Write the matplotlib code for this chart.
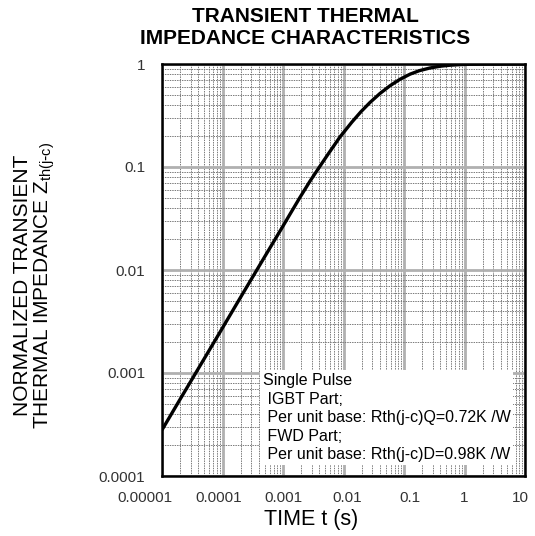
import matplotlib
matplotlib.use("Agg")
import matplotlib.pyplot as plt
from matplotlib.ticker import LogLocator, FixedLocator, FixedFormatter
from matplotlib.transforms import ScaledTranslation

plt.rcParams["font.family"] = ["Liberation Sans", "DejaVu Sans"]

# values
time_s = [1e-5, 2e-5, 5e-5, 1e-4, 2e-4, 3.3e-4, 5e-4, 1e-3, 1.3e-3, 1.9e-3, 2.8e-3,
          4e-3, 5.5e-3, 8.7e-3, 0.0137, 0.0195, 0.0274, 0.04, 0.0587, 0.085, 0.126,
          0.18, 0.269, 0.4, 0.575, 0.85, 1.25, 2.0, 10.0]
zth = [2.8e-4, 5.58e-4, 1.38e-3, 2.74e-3, 5.46e-3, 8.95e-3, 1.35e-2, 2.67e-2, 3.47e-2,
       5.05e-2, 7.3e-2, 0.1, 0.132, 0.195, 0.272, 0.345, 0.423, 0.517, 0.615, 0.708,
       0.797, 0.862, 0.915, 0.952, 0.973, 0.987, 0.995, 0.999, 1.0]

x_ticks = [1e-5, 1e-4, 1e-3, 1e-2, 1e-1, 1, 10]
x_labels = ["0.00001", "0.0001", "0.001", "0.01", "0.1", "1", "10"]
y_ticks = [1e-4, 1e-3, 1e-2, 1e-1, 1]
y_labels = ["0.0001", "0.001", "0.01", "0.1", "1"]

note = ("Single Pulse\n IGBT Part;\n Per unit base: Rth(j-c)Q=0.72K /W\n"
        " FWD Part;\n Per unit base: Rth(j-c)D=0.98K /W")

fig = plt.figure(figsize=(5.35, 5.36), dpi=100)
ax = fig.add_axes([162 / 535, 1 - 476 / 536, 363 / 535, 412 / 536])

ax.set_xscale("log")
ax.set_yscale("log")
ax.set_xlim(1e-5, 10)
ax.set_ylim(1e-4, 1)

ax.xaxis.set_major_locator(FixedLocator(x_ticks))
ax.xaxis.set_major_formatter(FixedFormatter(x_labels))
ax.yaxis.set_major_locator(FixedLocator(y_ticks))
ax.yaxis.set_major_formatter(FixedFormatter(y_labels))
ax.xaxis.set_minor_locator(LogLocator(base=10, subs=range(2, 10), numticks=20))
ax.yaxis.set_minor_locator(LogLocator(base=10, subs=range(2, 10), numticks=20))
ax.tick_params(which="both", length=0)
ax.tick_params(axis="x", pad=11, labelsize=11, labelcolor="#333333")
ax.tick_params(axis="y", pad=12, labelsize=11, labelcolor="#333333")

# nudge crowded x labels like the reference
shifts = [-17, -4, 0, 4, 6, 0, -5]
for lab, dx in zip(ax.get_xticklabels(), shifts):
    lab.set_transform(lab.get_transform() + ScaledTranslation(dx / 100, 0, fig.dpi_scale_trans))

ax.grid(which="major", color="#b0b0b0", lw=2.0)
ax.grid(which="minor", color="#7a7a7a", lw=0.7, ls=(0, (1.5, 1)))
ax.set_axisbelow(True)

ax.plot(time_s, zth, color="black", lw=2.4, zorder=3, solid_capstyle="butt")

for s in ax.spines.values():
    s.set_linewidth(1.8)

ax.text(4.6e-4, 1e-3, note, fontsize=11.5, va="top", ha="left",
        linespacing=1.3, zorder=4,
        bbox=dict(facecolor="white", edgecolor="none", pad=2))

fig.text(305 / 535, 1 - 27.5 / 536,
         "TRANSIENT THERMAL\nIMPEDANCE CHARACTERISTICS",
         ha="center", va="center", fontsize=15, fontweight="bold",
         linespacing=1.15)
fig.text(311 / 535, 1 - 519 / 536, "TIME t (s)", ha="center", va="center",
         fontsize=15.5)
fig.text(35 / 535, 1 - 285 / 536,
         "NORMALIZED TRANSIENT\nTHERMAL IMPEDANCE Z$_{\\mathregular{th(j\\text{-}c)}}$",
         ha="center", va="center", rotation=90, fontsize=15, linespacing=0.96)

fig.savefig("out.png", dpi=100)
